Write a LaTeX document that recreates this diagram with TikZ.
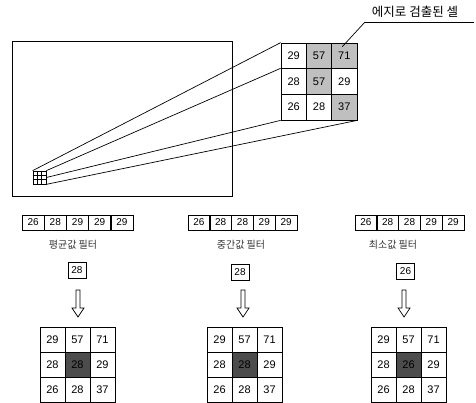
\documentclass[tikz,border=0pt]{standalone}
\usepackage{fontspec}
\setmainfont{Liberation Sans}
\newfontfamily\kr{Noto Sans CJK KR}
\usetikzlibrary{calc}
\tikzset{
  lw/.style={line width=0.7pt},
  bigcell/.style={draw, lw, rectangle, inner sep=0pt, minimum width=25pt, minimum height=25pt, font=\fontsize{11}{11}\selectfont},
  topcell/.style={bigcell, minimum width=25.33pt, minimum height=25.67pt},
  edgecell/.style={fill=gray!50},
  darkcell/.style={fill=black!70},
  rowcell/.style={draw, lw, rectangle, inner sep=0pt, minimum width=22pt, minimum height=15pt, font=\fontsize{10}{10}\selectfont},
  resbox/.style={draw, lw, rectangle, inner sep=0pt, minimum width=18pt, minimum height=16pt, font=\fontsize{10}{10}\selectfont},
  flabel/.style={font=\kr\fontsize{10}{10}\selectfont, text=black!80, inner sep=0pt},
  link/.style={lw},
  hdown/.pic={\draw[lw, fill=white] (-2,0) -- (2,0) -- (2,18) -- (6,18) -- (0,27) -- (-6,18) -- (-2,18) -- cycle;}
}
\begin{document}
\begin{tikzpicture}[x=1pt,y=-1pt]
\useasboundingbox (0,0) rectangle (476,403);

% photo frame
\node[draw, lw, rectangle, inner sep=0pt, minimum width=220pt, minimum height=155pt] (photo) at (122,118.5) {};
% small grid
\node[draw, lw, rectangle, inner sep=0pt, minimum size=13pt] (sg) at (39.5,177.5) {};
\draw[line width=0.6pt] ($(sg.north west)!0.333!(sg.north east)$) -- ($(sg.south west)!0.333!(sg.south east)$)
  ($(sg.north west)!0.667!(sg.north east)$) -- ($(sg.south west)!0.667!(sg.south east)$)
  ($(sg.north west)!0.333!(sg.south west)$) -- ($(sg.north east)!0.333!(sg.south east)$)
  ($(sg.north west)!0.667!(sg.south west)$) -- ($(sg.north east)!0.667!(sg.south east)$);

% enlarged grid
\node[topcell] (g11) at (293.67,55.83) {29};
\node[topcell, edgecell] (g12) at (319,55.83) {57};
\node[topcell, edgecell] (g13) at (344.33,55.83) {71};
\node[topcell] (g21) at (293.67,81.5) {28};
\node[topcell, edgecell] (g22) at (319,81.5) {57};
\node[topcell] (g23) at (344.33,81.5) {29};
\node[topcell] (g31) at (293.67,107.17) {26};
\node[topcell] (g32) at (319,107.17) {28};
\node[topcell, edgecell] (g33) at (344.33,107.17) {37};

% projection lines
\draw[link] (sg.north west) -- (g11.north west);
\draw[link] (sg.north east) -- (g21.north west);
\draw[link] (sg.east) -- (g31.south west);
\draw[link] (sg.south east) -- (g33.south east);

% label for detected cells
\node[font=\kr\fontsize{12.5}{12.5}\selectfont, inner sep=0pt, anchor=base] (elabel) at (415,17) {에지로 검출된 셀};
\coordinate (ul) at (365,22);
\coordinate (ur) at (474,22);
\coordinate (lend) at ($(g13.north)+(-2,4)$);
\draw[lw] (ul) -- (ur);
\draw[lw] (ul) -- (lend);

% ---------- panel 1 ----------
\foreach \v [count=\i from 0] in {26,28,29,29,29}
  \node[rowcell] (ra\i) at (33.1+22.2*\i,222.5) {\v};
\node[flabel] (la) at (73,245) {평균값 필터};
\node[resbox] (ba) at (77,270.5) {28};
\pic at (78,290) {hdown};
\node[bigcell] (a11) at (52.5,339.5) {29};
\node[bigcell] (a12) at (77.5,339.5) {57};
\node[bigcell] (a13) at (102.5,339.5) {71};
\node[bigcell] (a21) at (52.5,364.5) {28};
\node[bigcell, darkcell] (a22) at (77.5,364.5) {28};
\node[bigcell] (a23) at (102.5,364.5) {29};
\node[bigcell] (a31) at (52.5,389.5) {26};
\node[bigcell] (a32) at (77.5,389.5) {28};
\node[bigcell] (a33) at (102.5,389.5) {37};

% ---------- panel 2 ----------
\foreach \v [count=\i from 0] in {26,28,28,29,29}
  \node[rowcell] (rb\i) at (198.9+21.8*\i,222.5) {\v};
\node[flabel] (lb) at (241,245) {중간값 필터};
\node[resbox] (bb) at (240,272) {28};
\pic at (243,290) {hdown};
\node[bigcell] (b11) at (219.5,339.5) {29};
\node[bigcell] (b12) at (244.5,339.5) {57};
\node[bigcell] (b13) at (269.5,339.5) {71};
\node[bigcell] (b21) at (219.5,364.5) {28};
\node[bigcell, darkcell] (b22) at (244.5,364.5) {28};
\node[bigcell] (b23) at (269.5,364.5) {29};
\node[bigcell] (b31) at (219.5,389.5) {26};
\node[bigcell] (b32) at (244.5,389.5) {28};
\node[bigcell] (b33) at (269.5,389.5) {37};

% ---------- panel 3 ----------
\foreach \v [count=\i from 0] in {26,28,28,29,29}
  \node[rowcell] (rc\i) at (365.9+21.8*\i,222.5) {\v};
\node[flabel] (lc) at (393,245) {최소값 필터};
\node[resbox] (bc) at (405.5,271) {26};
\pic at (404,290) {hdown};
\node[bigcell] (c11) at (383.5,339.5) {29};
\node[bigcell] (c12) at (408.5,339.5) {57};
\node[bigcell] (c13) at (433.5,339.5) {71};
\node[bigcell] (c21) at (383.5,364.5) {28};
\node[bigcell, darkcell] (c22) at (408.5,364.5) {26};
\node[bigcell] (c23) at (433.5,364.5) {29};
\node[bigcell] (c31) at (383.5,389.5) {26};
\node[bigcell] (c32) at (408.5,389.5) {28};
\node[bigcell] (c33) at (433.5,389.5) {37};
\end{tikzpicture}
\end{document}
